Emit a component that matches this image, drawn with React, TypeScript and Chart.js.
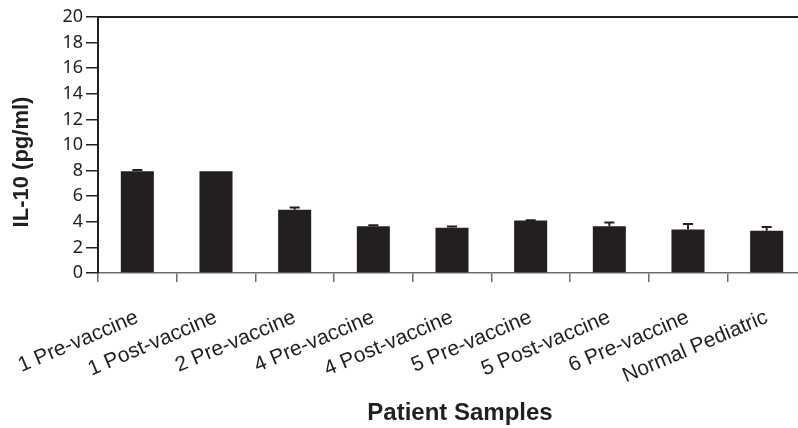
import React, { useEffect, useRef } from "react";
import { Chart, registerables } from "chart.js";

Chart.register(...registerables);

const categories = [
  "1 Pre-vaccine",
  "1 Post-vaccine",
  "2 Pre-vaccine",
  "4 Pre-vaccine",
  "4 Post-vaccine",
  "5 Pre-vaccine",
  "5 Post-vaccine",
  "6 Pre-vaccine",
  "Normal Pediatric",
];
const il10Values = [7.95, 7.95, 4.95, 3.65, 3.54, 4.11, 3.65, 3.39, 3.31];
const il10Errors = [0.1, 0, 0.16, 0.08, 0.1, 0.02, 0.29, 0.44, 0.28];
const yTickMin = 0;
const yTickMax = 20;
const yTickStep = 2;
const yTitle = "IL-10 (pg/ml)";
const xTitle = "Patient Samples";

const INK = "#231f20";

const errorBarPlugin = {
  id: "errorBars",
  afterDatasetsDraw(chart: any) {
    const ctx = chart.ctx;
    const meta = chart.getDatasetMeta(0);
    const yScale = chart.scales.y;
    ctx.save();
    ctx.strokeStyle = INK;
    ctx.lineWidth = 2;
    meta.data.forEach((bar: any, i: number) => {
      const err = il10Errors[i];
      if (!err) return;
      const x = bar.x;
      const yTop = yScale.getPixelForValue(il10Values[i] + err);
      const yBase = yScale.getPixelForValue(il10Values[i]);
      ctx.beginPath();
      ctx.moveTo(x, yBase);
      ctx.lineTo(x, yTop);
      ctx.moveTo(x - 5, yTop);
      ctx.lineTo(x + 5, yTop);
      ctx.stroke();
    });
    ctx.restore();
  },
};

const framePlugin = {
  id: "frameAndTitles",
  afterDraw(chart: any) {
    const ctx = chart.ctx;
    const area = chart.chartArea;
    ctx.save();
    ctx.strokeStyle = INK;
    ctx.lineWidth = 2;
    ctx.beginPath();
    ctx.moveTo(area.left - 1, area.top);
    ctx.lineTo(area.right, area.top);
    ctx.stroke();
    ctx.fillStyle = INK;
    ctx.font = "bold 22px 'Liberation Sans', Arial, sans-serif";
    ctx.textAlign = "center";
    ctx.textBaseline = "middle";
    ctx.translate(22, 162);
    ctx.rotate(-Math.PI / 2);
    ctx.fillText(yTitle, 0, 0);
    ctx.restore();
    ctx.save();
    ctx.fillStyle = INK;
    ctx.font = "bold 24px 'Liberation Sans', Arial, sans-serif";
    ctx.textAlign = "center";
    ctx.textBaseline = "alphabetic";
    ctx.fillText(xTitle, 460, 420);
    ctx.restore();
  },
};

export default function App() {
  const canvasRef = useRef<HTMLCanvasElement | null>(null);

  useEffect(() => {
    const canvas = canvasRef.current;
    if (!canvas) return;
    const chart = new Chart(canvas, {
      type: "bar",
      data: {
        labels: categories,
        datasets: [
          {
            data: il10Values,
            backgroundColor: INK,
            borderWidth: 0,
            categoryPercentage: 1,
            barPercentage: 0.42,
          },
        ],
      },
      options: {
        animation: false,
        responsive: false,
        layout: { padding: { left: 0, right: 14, top: 17, bottom: 0 } },
        plugins: {
          legend: { display: false },
          tooltip: { enabled: false },
        },
        scales: {
          x: {
            offset: true,
            grid: {
              offset: true,
              drawOnChartArea: false,
              drawTicks: true,
              tickLength: 9,
              color: "#6d6d6d",
              lineWidth: 1.5,
            },
            border: { display: true, color: "#6d6d6d", width: 1.5 },
            ticks: {
              autoSkip: false,
              minRotation: 23,
              maxRotation: 23,
              padding: 23,
              color: INK,
              font: { family: "'Liberation Sans', Arial, sans-serif", size: 21 },
            },
            afterFit(scale: any) {
              scale.height = 155;
              scale.paddingLeft = 0;
              scale.paddingRight = 0;
            },
          },
          y: {
            min: yTickMin,
            max: yTickMax,
            ticks: {
              stepSize: yTickStep,
              padding: 3,
              color: INK,
              font: { family: "'Noto Sans', 'Open Sans', sans-serif", size: 18 },
            },
            grid: {
              drawOnChartArea: false,
              drawTicks: true,
              tickLength: 12,
              color: INK,
              lineWidth: 1.5,
            },
            border: { display: true, color: INK, width: 2 },
            afterFit(scale: any) {
              scale.width = 98;
              scale.paddingTop = 0;
              scale.paddingBottom = 0;
            },
          },
        },
      },
      plugins: [errorBarPlugin, framePlugin],
    });
    return () => chart.destroy();
  }, []);

  return (
    <div
      style={{
        position: "absolute",
        left: 0,
        top: 0,
        width: 798,
        height: 428,
        overflow: "hidden",
        background: "#fff",
      }}
    >
      <canvas ref={canvasRef} width={820} height={428} style={{ display: "block" }} />
    </div>
  );
}
